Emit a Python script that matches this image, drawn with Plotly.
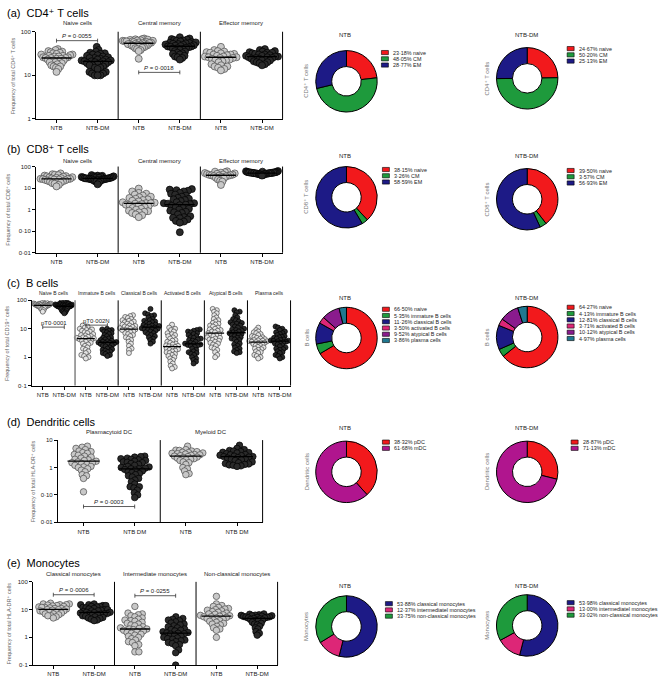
import numpy as np
import plotly.graph_objects as go

W, H = 661, 680
FONT = "Arial, Liberation Sans, DejaVu Sans, sans-serif"

def fx(p):
    return p / W

def fy(p):
    return 1 - p / H

# ---------------- DATA ----------------
# (a) CD4+ T cells
a_naive_ntb = [40, 38, 36, 35, 34, 33, 32, 31, 30, 30, 29, 28, 28, 27, 27, 26, 26, 25, 25, 25, 24, 24, 23, 22, 22, 21, 20, 20, 19, 18, 17, 16, 16, 15, 14, 12]
a_naive_dm = [45, 38, 35, 33, 32, 31, 30, 29, 28, 27, 26, 25, 25, 24, 23, 23, 22, 22, 21, 21, 21, 20, 20, 19, 19, 18, 18, 17, 17, 16, 15, 15, 14, 12, 12, 11, 11, 10, 10, 10]
a_cm_ntb = [70, 68, 67, 66, 65, 64, 63, 62, 62, 61, 60, 60, 59, 58, 57, 56, 55, 55, 54, 53, 52, 52, 51, 50, 49, 48, 47, 46, 45, 44, 43, 42, 40, 38, 36, 24]
a_cm_dm = [75, 70, 68, 66, 65, 63, 62, 60, 58, 57, 56, 55, 54, 53, 52, 51, 50, 49, 48, 47, 46, 46, 45, 44, 43, 42, 41, 40, 38, 36, 35, 33, 32, 31, 30, 28, 27, 26, 25, 23]
a_em_ntb = [45, 38, 36, 35, 34, 33, 32, 31, 30, 30, 29, 28, 27, 27, 26, 26, 25, 25, 24, 23, 22, 22, 21, 20, 18, 17, 16, 16, 15, 14, 13]
a_em_dm = [40, 38, 36, 35, 34, 33, 33, 32, 31, 30, 30, 29, 28, 28, 27, 27, 26, 26, 25, 25, 24, 24, 23, 22, 22, 21, 20, 20, 19, 18, 17]

# (b) CD8+ T cells
b_naive_ntb = [48, 44, 42, 40, 38, 36, 35, 34, 32, 31, 30, 29, 28, 27, 27, 26, 26, 25, 25, 24, 23, 22, 21, 20, 19, 18, 17, 16, 14, 12]
b_naive_dm = [40, 38, 37, 36, 35, 34, 33, 33, 32, 31, 31, 30, 30, 29, 29, 28, 28, 28, 27, 27, 26, 26, 25, 25, 24, 24, 23, 22, 21, 20, 18, 15]
b_cm_ntb = [9.5, 7, 6, 5.5, 5, 4.5, 4, 3.8, 3.5, 3.2, 3, 2.8, 2.6, 2.4, 2.2, 2.1, 2, 2, 1.9, 1.8, 1.7, 1.6, 1.5, 1.4, 1.3, 1.2, 1.1, 1, 0.9, 0.85, 0.8, 0.75, 0.7, 0.6, 0.55, 0.45]
b_cm_dm = [9, 8.5, 8, 7.5, 7, 6, 5.5, 5, 4.5, 4, 3.5, 3.2, 3, 2.8, 2.5, 2.2, 2, 2, 1.9, 1.8, 1.7, 1.6, 1.5, 1.3, 1.2, 1.1, 1, 0.9, 0.8, 0.75, 0.7, 0.6, 0.5, 0.45, 0.42, 0.4, 0.35, 0.3, 0.28, 0.25, 0.09]
b_em_ntb = [60, 58, 55, 52, 50, 48, 46, 45, 43, 42, 41, 40, 39, 38, 37, 36, 35, 33, 30, 28, 25, 22, 20, 14]
b_em_dm = [62, 60, 58, 57, 56, 55, 55, 54, 53, 53, 52, 52, 51, 51, 50, 50, 49, 49, 48, 48, 47, 47, 46, 46, 45, 44, 43, 42, 40, 38]

# (c) B cells
c_naive_ntb = [85, 82, 80, 78, 77, 76, 75, 74, 73, 72, 71, 70, 70, 69, 68, 67, 66, 65, 65, 64, 63, 62, 61, 60, 58, 56, 55, 53, 50, 48, 45, 40]
c_naive_dm = [88, 85, 82, 80, 78, 76, 75, 74, 72, 71, 70, 69, 68, 67, 66, 65, 64, 63, 62, 62, 61, 60, 59, 58, 57, 56, 55, 54, 52, 50, 48, 46, 44, 42, 40, 38, 35]
c_imm_ntb = [13, 12, 11, 10, 9.5, 9, 8.5, 8, 7.5, 7, 6.5, 6, 5.8, 5.5, 5.2, 5, 4.8, 4.6, 4.5, 4.3, 4.1, 4, 3.8, 3.5, 3.2, 3, 2.8, 2.5, 2.2, 2, 1.8, 1.6, 1.4, 1.2, 1.1, 1, 0.9]
c_imm_dm = [10, 9.5, 9, 8.5, 8, 7.5, 7, 6.5, 6, 5.5, 5, 4.8, 4.5, 4.2, 4, 3.8, 3.6, 3.5, 3.4, 3.3, 3.2, 3.1, 3, 2.9, 2.8, 2.6, 2.5, 2.4, 2.2, 2, 1.9, 1.8, 1.7, 1.6, 1.5, 1.4, 1.3, 1.2, 1.1]
c_cla_ntb = [30, 28, 26, 24, 22, 20, 19, 18, 17, 16, 15, 14, 13, 12.5, 12, 11.5, 11, 10.5, 10, 9.5, 9, 9, 8.5, 8, 7.5, 7, 6.5, 6, 5.5, 5, 4.5, 4, 3.5, 3, 2.5, 2, 1.8, 1.4]
c_cla_dm = [50, 35, 32, 30, 28, 25, 22, 20, 19, 18, 17, 16, 15, 14, 13.5, 13, 12.5, 12, 11.5, 11, 10.5, 10, 10, 9.5, 9, 8.5, 8, 7.5, 7, 6.5, 6, 5.5, 5, 4.5, 4, 3.5, 3]
c_act_ntb = [14, 11, 10, 9, 8, 7, 6.5, 6, 5.5, 5, 4.5, 4, 3.8, 3.5, 3.2, 3, 2.8, 2.6, 2.5, 2.4, 2.3, 2.2, 2, 1.9, 1.8, 1.7, 1.6, 1.5, 1.4, 1.3, 1.2, 1.1, 1, 0.9, 0.8, 0.7, 0.6, 0.5, 0.45, 0.4]
c_act_dm = [9.5, 9, 8.5, 8, 7.5, 7, 6.5, 6, 5.5, 5, 4.8, 4.5, 4.2, 4, 3.8, 3.5, 3.2, 3, 2.9, 2.8, 2.7, 2.6, 2.5, 2.3, 2, 1.8, 1.6, 1.5, 1.4, 1.3, 1.2, 1, 0.9, 0.8, 0.7, 0.6]
c_aty_ntb = [50, 45, 40, 35, 30, 25, 22, 20, 18, 16, 15, 14, 13, 12, 11, 10, 9.5, 9, 8.5, 8, 7.5, 7, 6.5, 6, 6, 5.5, 5, 4.8, 4.5, 4.2, 4, 3.8, 3.5, 3.2, 3, 2.8, 2.5, 2.2, 2, 1.8, 1.5, 1.2, 1]
c_aty_dm = [45, 40, 38, 30, 25, 22, 20, 18, 17, 16, 15, 14, 13, 12, 11, 10, 9.5, 9, 8.5, 8, 7.5, 7, 7, 6.5, 6, 5.8, 5.5, 5, 4.8, 4.5, 4.2, 4, 3.5, 3, 2.8, 2.5, 2.2, 2, 1.8, 1.6, 1.5, 1.4]
c_pla_ntb = [11, 9, 8, 7.5, 7, 6.5, 6, 5.5, 5.2, 5, 4.8, 4.5, 4.3, 4, 3.9, 3.8, 3.7, 3.6, 3.5, 3.4, 3.3, 3.2, 3, 2.9, 2.8, 2.6, 2.5, 2.3, 2.2, 2, 1.9, 1.8, 1.6, 1.5, 1.4, 1.2, 1.1, 1, 0.9]
c_pla_dm = [12, 11, 10, 9, 8, 7.5, 7, 6.5, 6, 5.5, 5.2, 5, 4.8, 4.5, 4.2, 4, 3.9, 3.8, 3.7, 3.6, 3.5, 3.3, 3.1, 3, 2.8, 2.6, 2.4, 2.2, 2, 1.9, 1.8, 1.6, 1.5, 1.4, 1.2, 1.1, 1, 0.9]

# (d) Dendritic cells
d_pdc_ntb = [6, 5.5, 5, 4.5, 4, 3.8, 3.5, 3.3, 3, 2.8, 2.6, 2.4, 2.2, 2, 1.9, 1.8, 1.7, 1.6, 1.5, 1.5, 1.4, 1.3, 1.2, 1.1, 1.05, 1, 0.9, 0.8, 0.7, 0.55, 0.5, 0.4, 0.13]
d_pdc_dm = [2.6, 2.5, 2.4, 2.2, 2.1, 2, 1.9, 1.8, 1.7, 1.6, 1.55, 1.5, 1.4, 1.3, 1.2, 1.1, 1.05, 1, 0.95, 0.9, 0.9, 0.85, 0.8, 0.75, 0.7, 0.65, 0.6, 0.55, 0.5, 0.45, 0.4, 0.35, 0.3, 0.25, 0.2, 0.2, 0.18, 0.15, 0.12, 0.1, 0.08]
d_mdc_ntb = [6, 4.5, 4.3, 4.2, 4, 3.8, 3.6, 3.5, 3.4, 3.3, 3.2, 3.1, 3, 2.9, 2.8, 2.7, 2.6, 2.5, 2.4, 2.3, 2.2, 2.1, 2, 1.9, 1.8, 1.6, 1.5, 1.3, 1, 0.9, 0.75, 0.6, 0.55]
d_mdc_dm = [6.5, 5, 4.5, 4.2, 4, 3.8, 3.6, 3.5, 3.4, 3.2, 3, 2.9, 2.8, 2.7, 2.6, 2.5, 2.5, 2.4, 2.3, 2.2, 2.1, 2, 1.9, 1.8, 1.6, 1.5, 1.4, 1.35, 1.3, 1.25, 1.2, 1.15, 1.1]

# (e) Monocytes
e_cla_ntb = [17, 16, 16, 15, 15, 14.5, 14, 13.5, 13, 12.5, 12, 12, 11.5, 11, 11, 10.5, 10, 10, 9.5, 9, 9, 8.5, 8, 8, 7.5, 7, 7, 6.5, 6, 6, 5.5, 5]
e_cla_dm = [16, 15, 15, 14, 14, 13, 13, 12.5, 12, 11.5, 11, 10.5, 10, 10, 9.5, 9, 9, 8.5, 8, 8, 7.8, 7.5, 7.2, 7, 7, 6.8, 6.5, 6.2, 6, 5.8, 5.5, 5.2, 5, 4.8, 4.5, 4.2, 4]
e_int_ntb = [13, 7.5, 7, 6.5, 6, 5.5, 5, 4.5, 4.2, 4, 3.8, 3.5, 3.2, 3, 2.8, 2.6, 2.4, 2.2, 2.1, 2, 2, 1.9, 1.8, 1.7, 1.6, 1.5, 1.4, 1.3, 1.2, 1.1, 1, 0.9, 0.8, 0.7, 0.65, 0.55, 0.5, 0.3, 0.3]
e_int_dm = [5.5, 4.8, 4.5, 4.2, 4, 3.6, 3.3, 3, 2.8, 2.6, 2.4, 2.2, 2, 1.9, 1.8, 1.7, 1.6, 1.5, 1.45, 1.4, 1.35, 1.3, 1.2, 1.1, 1, 0.95, 0.9, 0.85, 0.8, 0.75, 0.7, 0.65, 0.6, 0.55, 0.5, 0.35, 0.28, 0.1]
e_non_ntb = [30, 16, 14, 13, 12, 11, 10.5, 10, 9.5, 9, 8.5, 8, 7.5, 7, 6.8, 6.5, 6.2, 6, 5.8, 5.5, 5.5, 5.2, 5, 4.8, 4.5, 4.2, 4, 3.8, 3.5, 3.2, 3, 2.8, 2.5, 2.2, 2, 1.8, 1]
e_non_dm = [7, 6.8, 6.5, 6.3, 6.2, 6, 6, 5.8, 5.7, 5.5, 5.4, 5.3, 5.2, 5, 5, 4.8, 4.6, 4.4, 4.2, 4, 3.8, 3.5, 3.2, 3, 2.8, 2.5, 2.2, 2, 1.6, 1.4, 1.2]

# Pie (donut) compositions, %
pie_a_labels = ["naive", "CM", "EM"]
pie_a_ntb = [23.18, 48.05, 28.77]
pie_a_dm = [24.67, 50.20, 25.13]
pie_b_labels = ["naive", "CM", "EM"]
pie_b_ntb = [38.15, 3.26, 58.59]
pie_b_dm = [39.50, 3.57, 56.93]
pie_c_labels = ["naive", "immature B cells", "classical B cells", "activated B cells", "atypical B cells", "plasma cells"]
pie_c_ntb = [66.50, 5.35, 11.26, 3.50, 9.52, 3.86]
pie_c_dm = [64.27, 4.13, 12.81, 3.71, 10.12, 4.97]
pie_d_labels = ["pDC", "mDC"]
pie_d_ntb = [38.32, 61.68]
pie_d_dm = [28.87, 71.13]
pie_e_labels = ["classical monocytes", "intermediatel monocytes", "non-classical monocytes"]
pie_e_ntb = [53.88, 12.37, 33.75]
pie_e_dm = [53.98, 13.00, 33.02]

RED, GREEN, NAVY = "#F2191C", "#1E9A3C", "#1D1A86"
PINK, PURPLE, TEAL, MAGENTA = "#DD2677", "#8A1B8D", "#1F7890", "#B0158E"

# ---------------- PANELS ----------------
panels = [
    dict(title="(a)  CD4⁺ T cells", title_y=10,
         left=36, right=283, top=29, bottom=117, lo=0, hi=2,
         tickvals=[1, 10, 100], ticktext=["1", "10", "100"],
         sections=["Naive cells", "Central memory", "Effector memory"], sec_y=20, secfont=6,
         catlabels=["NTB", "NTB-DM"] * 3, xfont=6,
         groups=[a_naive_ntb, a_naive_dm, a_cm_ntb, a_cm_dm, a_em_ntb, a_em_dm],
         ytitle="Frequency of total CD4⁺ T cells", ytx=13,
         msize=7, maxhalf=16, medhalf=15,
         brackets=[(0, 1, 38, "<i>P</i> = 0·0055"), (2, 3, 70, "<i>P</i> = 0·0018")],
         pie_labels=pie_a_labels, pie_ntb=pie_a_ntb, pie_dm=pie_a_dm, pie_colors=[RED, GREEN, NAVY],
         pie_cy=(79, 76), pie_ty=(32, 32), leg=((382, 50), (568, 46)), pie_ylabel="CD4⁺ T cells"),
    dict(title="(b)  CD8⁺ T cells", title_y=147,
         left=36, right=283, top=165, bottom=252, lo=-2, hi=2,
         tickvals=[0.01, 0.1, 1, 10, 100], ticktext=["0·01", "0·10", "1", "10", "100"],
         sections=["Naive cells", "Central memory", "Effector memory"], sec_y=159, secfont=6,
         catlabels=["NTB", "NTB-DM"] * 3, xfont=6,
         groups=[b_naive_ntb, b_naive_dm, b_cm_ntb, b_cm_dm, b_em_ntb, b_em_dm],
         ytitle="Frequency of total CD8⁺ cells", ytx=8,
         msize=7, maxhalf=16, medhalf=15, brackets=[],
         pie_labels=pie_b_labels, pie_ntb=pie_b_ntb, pie_dm=pie_b_dm, pie_colors=[RED, GREEN, NAVY],
         pie_cy=(196, 198), pie_ty=(154, 154), leg=((383, 168), (568, 169)), pie_ylabel="CD8⁺ T cells"),
    dict(title="(c)  B cells", title_y=282,
         left=32, right=291, top=300, bottom=386, lo=-1, hi=2,
         tickvals=[0.1, 1, 10, 100], ticktext=["0·1", "1", "10", "100"],
         sections=["Naive B cells", "Immature B cells", "Classical B cells", "Activated B cells",
                   "Atypical B cells", "Plasma cells"], sec_y=293, secfont=5,
         catlabels=["NTB", "NTB-DM"] * 6, xfont=6,
         groups=[c_naive_ntb, c_naive_dm, c_imm_ntb, c_imm_dm, c_cla_ntb, c_cla_dm,
                 c_act_ntb, c_act_dm, c_aty_ntb, c_aty_dm, c_pla_ntb, c_pla_dm],
         ytitle="Frequency of total CD19⁺ cells", ytx=7,
         msize=5, maxhalf=9, medhalf=9,
         brackets=[(0, 1, 327, "pT0·0001"), (2, 3, 325, "pT0·002N")],
         pie_labels=pie_c_labels, pie_ntb=pie_c_ntb, pie_dm=pie_c_dm,
         pie_colors=[RED, GREEN, NAVY, PINK, PURPLE, TEAL],
         pie_cy=(338, 337), pie_ty=(298, 298), leg=((383, 309), (568, 307)), pie_ylabel="B cells"),
    dict(title="(d)  Dendritic cells", title_y=423,
         left=58, right=263, top=441, bottom=524, lo=-2, hi=1,
         tickvals=[0.01, 0.1, 1, 10], ticktext=["0·01", "0·10", "1", "10"],
         sections=["Plasmacytoid DC", "Myeloid DC"], sec_y=433, secfont=6,
         catlabels=["NTB", "NTB DM"] * 2, xfont=6,
         groups=[d_pdc_ntb, d_pdc_dm, d_mdc_ntb, d_mdc_dm],
         ytitle="Frequency of total HLA-DR⁺ cells", ytx=33,
         msize=6.5, maxhalf=17, medhalf=16,
         brackets=[(0, 1, 508, "<i>P</i> = 0·0003")],
         pie_labels=pie_d_labels, pie_ntb=pie_d_ntb, pie_dm=pie_d_dm, pie_colors=[RED, MAGENTA],
         pie_cy=(473, 473), pie_ty=(429, 429), leg=((383, 443), (572, 443)), pie_ylabel="Dendritic cells"),
    dict(title="(e)  Monocytes", title_y=565,
         left=33, right=278, top=584, bottom=668, lo=-1, hi=2,
         tickvals=[0.1, 1, 10, 100], ticktext=["0·1", "1", "10", "100"],
         sections=["Classical monocytes", "Intermediate monocytes", "Non-classical monocytes"], sec_y=576, secfont=6,
         catlabels=["NTB", "NTB-DM"] * 3, xfont=6,
         groups=[e_cla_ntb, e_cla_dm, e_int_ntb, e_int_dm, e_non_ntb, e_non_dm],
         ytitle="Frequency of total HLA-DR⁺ cells", ytx=9,
         msize=6.5, maxhalf=16, medhalf=15,
         brackets=[(0, 1, 597, "<i>P</i> = 0·0006"), (2, 3, 598, "<i>P</i> = 0·0255")],
         pie_labels=pie_e_labels, pie_ntb=pie_e_ntb, pie_dm=pie_e_dm, pie_colors=[NAVY, PINK, GREEN],
         pie_cy=(629, 628), pie_ty=(588, 588), leg=((386, 606), (568, 605)), pie_ylabel="Monocytes"),
]

PIE_CX = (347, 528)
PIE_R = 31


def swarm(ypix, D):
    order = np.argsort(ypix)
    placed = []
    xs = np.zeros(len(ypix))
    for i in order:
        y = ypix[i]
        near = [(px, py) for px, py in placed if abs(py - y) < D]
        cands = [0.0]
        for px, py in near:
            dx = np.sqrt(max(D * D - (py - y) ** 2, 0))
            cands += [px + dx, px - dx]
        cands.sort(key=abs)
        chosen = 0.0
        for c in cands:
            if all((c - px) ** 2 + (y - py) ** 2 >= D * D - 1e-6 for px, py in near):
                chosen = c
                break
        placed.append((chosen, y))
        xs[i] = chosen
    return xs


def anno(text, x, y, size, color="#222", xref="paper", xanchor="center", angle=0):
    return dict(text=text, xref=xref, yref="paper", x=x, y=y, xanchor=xanchor, yanchor="middle",
                textangle=angle, showarrow=False, font=dict(size=size, color=color))


fig = go.Figure()
layout = dict(width=W, height=H, margin=dict(l=0, r=0, t=0, b=0),
              paper_bgcolor="white", plot_bgcolor="white", showlegend=False,
              font=dict(family=FONT, color="#222"))
shapes, annos = [], []

for k, p in enumerate(panels, start=1):
    xn = "xaxis" if k == 1 else f"xaxis{k}"
    yn = "yaxis" if k == 1 else f"yaxis{k}"
    xr = "x" if k == 1 else f"x{k}"
    yr = "y" if k == 1 else f"y{k}"
    n = len(p["groups"])
    unit = (p["right"] - p["left"]) / n
    layout[xn] = dict(domain=[fx(p["left"]), fx(p["right"])], anchor=yr, range=[-0.5, n - 0.5],
                      tickvals=list(range(n)), ticktext=p["catlabels"], ticks="outside", ticklen=3,
                      tickcolor="black", showline=True, linecolor="black", linewidth=1,
                      showgrid=False, zeroline=False, tickfont=dict(size=p["xfont"], color="#222"))
    layout[yn] = dict(domain=[fy(p["bottom"]), fy(p["top"])], anchor=xr, type="log",
                      range=[p["lo"], p["hi"]], tickvals=p["tickvals"], ticktext=p["ticktext"],
                      ticks="outside", ticklen=3, tickcolor="black", showline=True, linecolor="black",
                      linewidth=1, showgrid=False, zeroline=False, tickfont=dict(size=6, color="#222"))
    hpix = p["bottom"] - p["top"]
    for gi, vals in enumerate(p["groups"]):
        v = np.array(vals, dtype=float)
        ypix = (np.log10(v) - p["lo"]) / (p["hi"] - p["lo"]) * hpix
        off = swarm(ypix, p["msize"] * 0.62)
        m = np.max(np.abs(off))
        if m > p["maxhalf"]:
            off = off * p["maxhalf"] / m
        x = gi + off / unit
        is_dm = gi % 2 == 1
        if is_dm:
            mk = dict(size=p["msize"], color="#2a2a2a", line=dict(color="#000", width=0.7))
        else:
            fill = "#e4e4e4" if k == 3 else "#c8c8c8"
            mk = dict(size=p["msize"], color=fill, line=dict(color="#4a4a4a", width=0.7))
        fig.add_trace(go.Scatter(x=x, y=v, mode="markers", marker=mk, xaxis=xr, yaxis=yr,
                                 hoverinfo="y"))
    for gi, vals in enumerate(p["groups"]):
        med = float(np.median(vals))
        hw = p["medhalf"] / unit
        fig.add_trace(go.Scatter(x=[gi - hw, gi + hw], y=[med, med], mode="lines",
                                 line=dict(color="black", width=1.3), xaxis=xr, yaxis=yr,
                                 hoverinfo="skip"))
    # section separators and right border
    nsec = len(p["sections"])
    for s in range(1, nsec):
        col, wd = ("#8a8a8a", 1.6) if (k == 3 and s == 1) else ("black", 1)
        shapes.append(dict(type="line", xref=xr, yref=f"{yr} domain", x0=2 * s - 0.5, x1=2 * s - 0.5,
                           y0=0, y1=1, line=dict(color=col, width=wd)))
    shapes.append(dict(type="line", xref=f"{xr} domain", yref=f"{yr} domain", x0=1, x1=1, y0=0, y1=1,
                       line=dict(color="black", width=1)))
    for s, name in enumerate(p["sections"]):
        annos.append(anno(name, 2 * s + 0.5, fy(p["sec_y"]), p["secfont"], xref=xr))
    # panel title
    annos.append(anno(p["title"], fx(5), fy(p["title_y"]), 11, color="black", xanchor="left"))
    # y title
    annos.append(anno(p["ytitle"], fx(p["ytx"]), fy((p["top"] + p["bottom"]) / 2), 5.5,
                      color="#666", angle=-90))
    # P-value brackets
    for c0, c1, by, txt in p["brackets"]:
        shapes.append(dict(type="line", xref=xr, yref="paper", x0=c0, x1=c1, y0=fy(by), y1=fy(by),
                           line=dict(color="#333", width=0.8)))
        for c in (c0, c1):
            shapes.append(dict(type="line", xref=xr, yref="paper", x0=c, x1=c, y0=fy(by - 2), y1=fy(by + 2),
                               line=dict(color="#333", width=0.8)))
        annos.append(anno(txt, (c0 + c1) / 2, fy(by - 4.5), 6, xref=xr))
    # donuts
    for j, (vals, name) in enumerate(((p["pie_ntb"], "NTB"), (p["pie_dm"], "NTB-DM"))):
        cx, cy = PIE_CX[j], p["pie_cy"][j]
        fig.add_trace(go.Pie(values=vals, labels=p["pie_labels"], hole=0.48, sort=False,
                             direction="clockwise", rotation=0, textinfo="none", showlegend=False,
                             marker=dict(colors=p["pie_colors"], line=dict(color="black", width=1)),
                             domain=dict(x=[fx(cx - PIE_R), fx(cx + PIE_R)],
                                         y=[fy(cy + PIE_R), fy(cy - PIE_R)]),
                             hoverinfo="label+value"))
        annos.append(anno(name, fx(cx - 1), fy(p["pie_ty"][j]), 6))
        annos.append(anno(p["pie_ylabel"], fx(cx - 40), fy(cy), 6, color="#777", angle=-90))
        lx, ly = p["leg"][j]
        for li, (lab, val) in enumerate(zip(p["pie_labels"], vals)):
            yy = ly + li * 6.3
            shapes.append(dict(type="rect", xref="paper", yref="paper", x0=fx(lx), x1=fx(lx + 7),
                               y0=fy(yy + 2.1), y1=fy(yy - 2.1), fillcolor=p["pie_colors"][li],
                               line=dict(color="black", width=0.6)))
            annos.append(anno(f"{val:.2f}% {lab}".replace(".", "·"), fx(lx + 10), fy(yy), 5.4,
                              xanchor="left"))

layout["shapes"] = shapes
layout["annotations"] = annos
fig.update_layout(**layout)
fig.write_html("out.html", config={"displayModeBar": False},
               post_script="document.body.style.margin='0px';")
